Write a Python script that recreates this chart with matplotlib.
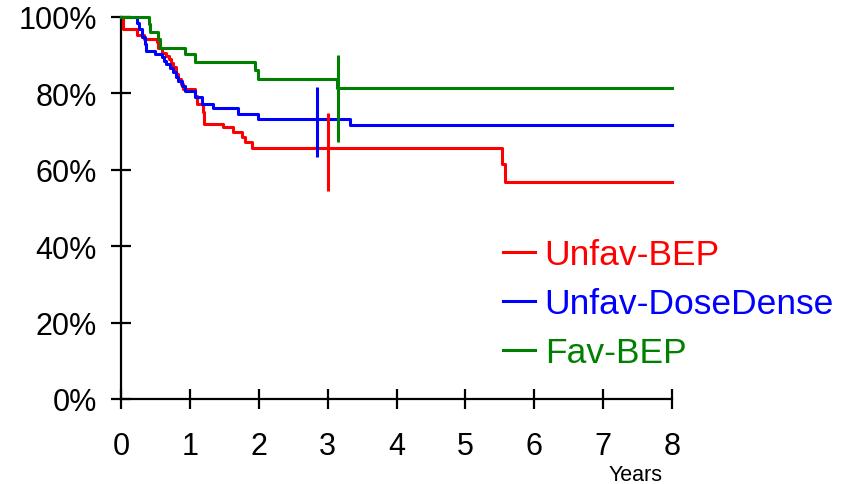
import matplotlib
matplotlib.use("Agg")
import matplotlib.pyplot as plt

plt.rcParams['font.family'] = ['Liberation Sans', 'DejaVu Sans']

series_names = ["Unfav-BEP", "Unfav-DoseDense", "Fav-BEP"]
series_colors = ["#ff0000", "#0000ff", "#008000"]

red_t = [0, 0.03, 0.23, 0.34, 0.52, 0.54, 0.60, 0.65, 0.69, 0.73, 0.76, 0.80, 0.83, 0.87,
         0.90, 1.07, 1.10, 1.19, 1.21, 1.48, 1.63, 1.75, 1.80, 1.90, 5.53, 5.58, 8]
red_s = [100, 96.9, 95.3, 94.2, 93.4, 91.8, 90.5, 89.8, 89.0, 88.0, 86.8, 85.2, 83.8, 82.5,
         81.2, 79.4, 77.2, 75.0, 72.0, 71.1, 69.8, 68.5, 67.2, 65.6, 61.5, 56.9, 56.9]

blue_t = [0, 0.23, 0.26, 0.30, 0.35, 0.37, 0.49, 0.59, 0.62, 0.66, 0.71, 0.76, 0.80, 0.83,
          0.88, 0.93, 1.07, 1.17, 1.34, 1.70, 1.99, 3.32, 8]
blue_s = [100, 98.5, 96.9, 94.7, 93.0, 91.2, 90.3, 89.4, 88.5, 87.7, 86.6, 85.5, 84.4, 83.3,
          82.0, 80.7, 79.0, 77.2, 76.1, 74.6, 73.3, 71.7, 71.7]

green_t = [0, 0.40, 0.42, 0.54, 0.57, 0.93, 1.07, 1.94, 1.99, 3.14, 8]
green_s = [100, 98.2, 96.0, 94.2, 92.0, 90.3, 88.1, 86.0, 83.8, 81.3, 81.3]

# 95% CI bars (time, low, high)
ci_t = [3.0, 2.85, 3.15]
ci_lo = [54.5, 63.4, 67.3]
ci_hi = [74.9, 81.6, 90.0]

x_ticks = [0, 1, 2, 3, 4, 5, 6, 7, 8]
y_ticks = [0, 20, 40, 60, 80, 100]
y_labels = ["0%", "20%", "40%", "60%", "80%", "100%"]

fig = plt.figure(figsize=(8.65, 4.85), dpi=100)
ax = fig.add_axes([0.1399, 0.1753, 0.7769 - 0.1399, 0.9629 - 0.1753])

curves = [(red_t, red_s), (blue_t, blue_s), (green_t, green_s)]
for (t, s), name, c in zip(curves, series_names, series_colors):
    ax.step(t, s, where='post', color=c, lw=2.2, label=name, clip_on=False, zorder=3)
for x, lo, hi, c in zip(ci_t, ci_lo, ci_hi, series_colors):
    ax.vlines(x, lo, hi, color=c, lw=2.2, zorder=4)

ax.set_xlim(0, 8)
ax.set_ylim(0, 100)
ax.set_xticks(x_ticks)
ax.set_xticklabels([str(v) for v in x_ticks])
ax.set_yticks(y_ticks)
ax.set_yticklabels(y_labels)

for sp in ['top', 'right']:
    ax.spines[sp].set_visible(False)
for sp in ['left', 'bottom']:
    ax.spines[sp].set_linewidth(1.6)
    ax.spines[sp].set_color('black')

ax.tick_params(axis='both', direction='inout', length=14.5, width=1.6, labelsize=22, colors='black')
ax.tick_params(axis='x', pad=16)
ax.tick_params(axis='y', pad=10)

ax.text(0.933, -0.212, "Years", transform=ax.transAxes, fontsize=15.5, ha='center', va='baseline')

leg = ax.legend(loc='center left', bbox_to_anchor=(0.693, 0.249), frameon=False,
                fontsize=25.5, handlelength=0.9, handletextpad=0.28, labelspacing=0.45,
                labelcolor='linecolor', borderaxespad=0, borderpad=0)
for h in leg.get_lines():
    h.set_linewidth(2.2)

fig.savefig("out.png", dpi=100)
